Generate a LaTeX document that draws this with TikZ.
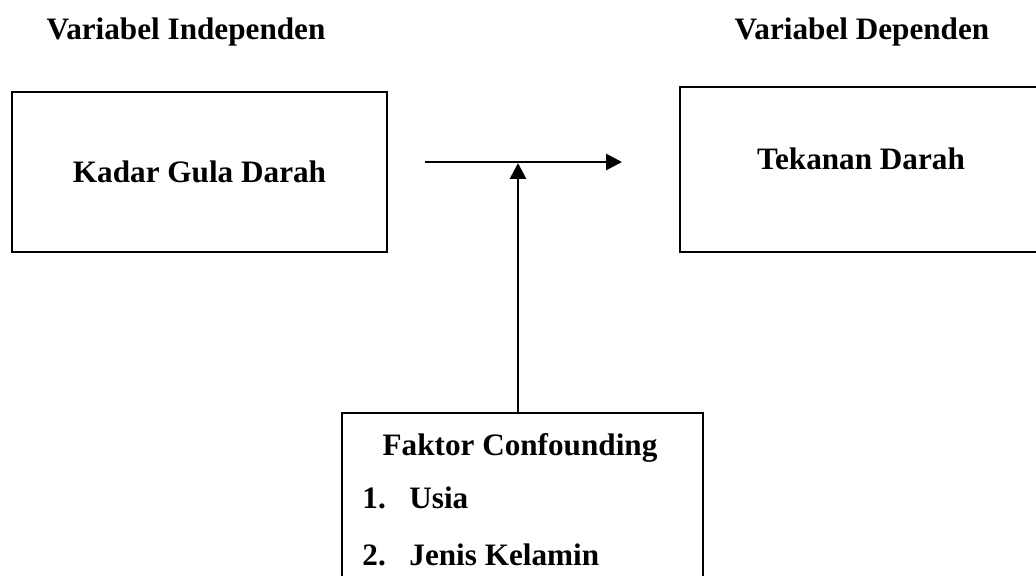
\documentclass[tikz,border=0pt]{standalone}
\usepackage{fontspec}
\setmainfont{Liberation Serif}
\usepackage{tikz}
\usetikzlibrary{arrows.meta}

\begin{document}
\begin{tikzpicture}[x=0.5pt,y=-0.5pt]
	\tikzstyle{box} = [draw=black, line width=1.3pt, rectangle, inner sep=0pt]
	\tikzstyle{txt} = [inner sep=0pt, font=\fontsize{15.6}{18}\selectfont\bfseries]
	\tikzstyle{edge} = [draw=black, line width=1.4pt, -{Triangle[length=8pt,width=8pt]}]
	\useasboundingbox (0,0) rectangle (1036,576);
	\clip (0,0) rectangle (1036,576);
		\node[txt, anchor=base] (ti) at (186,40) {Variabel Independen};
		\node[txt, anchor=base] (td) at (862,40) {Variabel Dependen};
		\node[box, txt, minimum width=187.5pt, minimum height=80pt] (kgd) at (199.5,172) {Kadar Gula Darah};
		\node[box, minimum width=181pt, minimum height=82.5pt] (td-box) at (861,169.5) {};
		\node[txt, anchor=base] (tkd) at (861,170) {Tekanan Darah};
		\node[box, minimum width=180.5pt, minimum height=88.5pt] (fc) at (522.5,501.5) {};
		\node[txt, anchor=base] (fc-t) at (520,455) {Faktor Confounding};
		\node[txt, anchor=base west] (n1) at (362,508) {1.};
		\node[txt, anchor=base west] (usia) at (409,508) {Usia};
		\node[txt, anchor=base west] (n2) at (362,565) {2.};
		\node[txt, anchor=base west] (jk) at (409,565) {Jenis Kelamin};
	\coordinate (a) at (425,162);
	\coordinate (b) at (622,162);
	\coordinate (j) at (518,163);
	\draw[edge] (a) -- (b);
	\draw[edge] (fc.north -| j) -- (j);
\end{tikzpicture}
\end{document}
